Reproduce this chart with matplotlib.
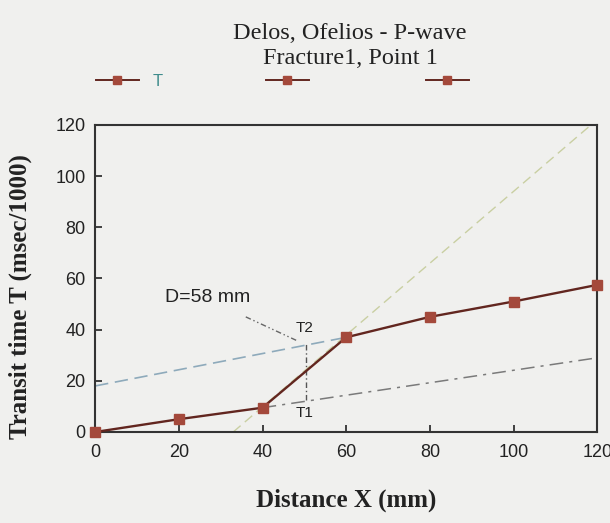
import matplotlib.pyplot as plt
from matplotlib.lines import Line2D

# measured transit times
distance = [0, 20, 40, 60, 80, 100, 120]
transit = [0, 5, 9.5, 37, 45, 51, 57.5]

# construction lines
steep_x = [33, 118.5]
steep_y = [0, 120]
upper_x = [0, 60]
upper_y = [18, 37]
lower_x = [40, 120]
lower_y = [9.5, 29]
cut_x = [50.5, 50.5]
cut_y = [12.5, 34.5]
pointer_x = [36, 48.5]
pointer_y = [45, 35.5]

bg = "#f0f0ee"
line_col = "#62261f"
mark_col = "#a4493b"

fig = plt.figure(figsize=(6.1, 5.23), dpi=100, facecolor=bg)
ax = fig.add_axes([0.156, 0.174, 0.823, 0.587], facecolor=bg)

ax.plot(steep_x, steep_y, color="#c9cfa2", lw=1, dashes=(7, 4))
ax.plot(upper_x, upper_y, color="#8eaabb", lw=1.2, dashes=(8, 4))
ax.plot(lower_x, lower_y, color="#7a7a7a", lw=1.1, dashes=(9, 4, 2, 4))
ax.plot(cut_x, cut_y, color="#555555", lw=1, dashes=(4, 2, 1, 2))
ax.plot(pointer_x, pointer_y, color="#666666", lw=1, dashes=(4, 2, 1, 2, 1, 2))
ax.plot(distance, transit, color=line_col, lw=1.7, marker="s", ms=6.5,
        mfc=mark_col, mec=mark_col, zorder=5, clip_on=False)

ax.text(16.6, 52.5, "D=58 mm", fontsize=14, family="Liberation Sans",
        ha="left", va="center", color="#222222")
ax.text(50, 40.5, "T2", fontsize=11, family="Liberation Sans",
        ha="center", va="center", color="#222222")
ax.text(50, 7.5, "T1", fontsize=11, family="Liberation Sans",
        ha="center", va="center", color="#222222")

ax.set_xlim(0, 120)
ax.set_ylim(0, 120)
ax.set_xticks(range(0, 121, 20))
ax.set_yticks(range(0, 121, 20))
ax.tick_params(direction="in", length=5, width=1.2, labelsize=13, colors="#222222")
ax.tick_params(axis="x", pad=9)
ax.tick_params(axis="y", pad=7)
for lab in ax.get_xticklabels() + ax.get_yticklabels():
    lab.set_family("Liberation Sans")
for s in ax.spines.values():
    s.set_linewidth(1.5)
    s.set_color("#333333")

ax.set_xlabel("Distance X (mm)", family="Liberation Serif", fontweight="bold",
              fontsize=18, color="#222222")
ax.set_ylabel("Transit time T (msec/1000)", family="Liberation Serif",
              fontweight="bold", fontsize=18, color="#222222")
ax.xaxis.set_label_coords(0.5, -0.183)
ax.yaxis.set_label_coords(-0.125, 0.44)

fig.text(0.574, 0.925, "Delos, Ofelios - P-wave", family="Liberation Serif",
         fontsize=17.5, ha="center", va="baseline", color="#222222")
fig.text(0.574, 0.878, "Fracture1, Point 1", family="Liberation Serif",
         fontsize=17.5, ha="center", va="baseline", color="#222222")

handles = [Line2D([], [], color=line_col, lw=1.4, marker="s", ms=6,
                  mfc=mark_col, mec=mark_col) for _ in range(3)]
leg = fig.legend(handles, ["T", "", ""], loc="center left",
                 bbox_to_anchor=(0.132, 0.844), ncol=3, frameon=False,
                 handlelength=2.6, handletextpad=0.8, columnspacing=6.2,
                 prop={"family": "Liberation Sans", "size": 12})
leg.get_texts()[0].set_color("#3f8c8c")

fig.savefig("out.png", dpi=100, facecolor=bg)
